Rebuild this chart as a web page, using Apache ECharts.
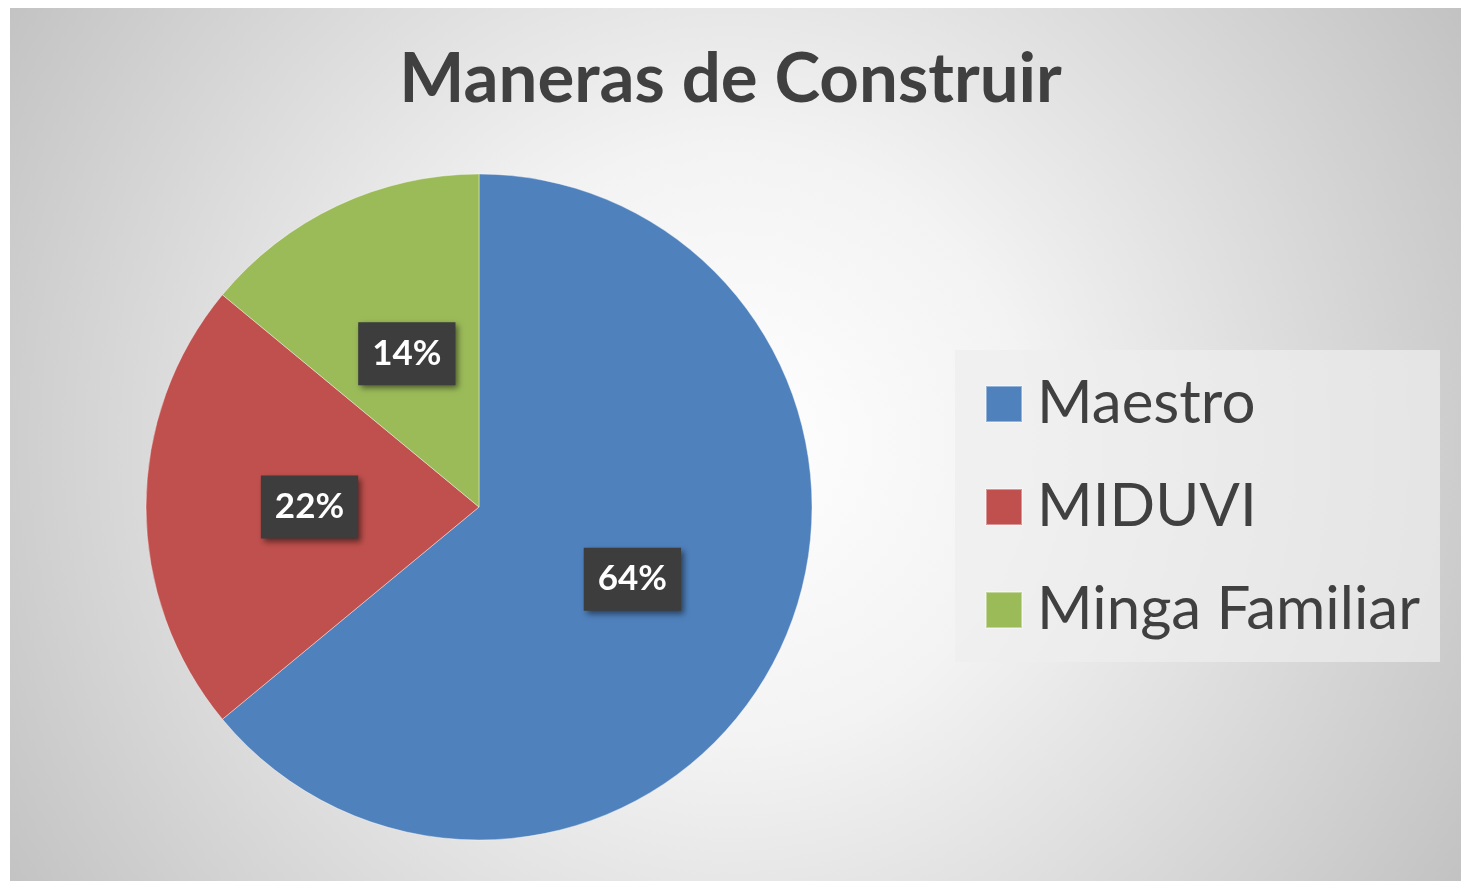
<!DOCTYPE html>
<html>
<head>
<meta charset="utf-8">
<script src="https://cdn.jsdelivr.net/npm/echarts@6/dist/echarts.min.js"></script>
<style>
  html, body { margin: 0; padding: 0; background: #fff; overflow: hidden; }
  #main { width: 1461px; height: 881px; }
</style>
</head>
<body>
<div id="main"></div>
<script>
var categories = ['Maestro', 'MIDUVI', 'Minga Familiar'];
var values = [64, 22, 14];
var colors = ['#4F81BD', '#C0504D', '#9BBB59'];

var myChart = echarts.init(document.getElementById('main'));

var pieData = [];
for (var i = 0; i < categories.length; i++) {
  pieData.push({ name: categories[i], value: values[i] });
}

var option = {
  backgroundColor: '#ffffff',
  color: colors,
  graphic: [{
    type: 'rect',
    z: -10,
    silent: true,
    shape: { x: 10, y: 8, width: 1470, height: 890 },
    style: {
      fill: new echarts.graphic.RadialGradient(0.49, 0.49, 0.96, [
        { offset: 0, color: '#ffffff' },
        { offset: 0.35, color: '#f3f3f3' },
        { offset: 1, color: '#c2c2c2' }
      ])
    }
  }],
  title: {
    text: 'Maneras de Construir',
    left: 'center',
    top: 40,
    textStyle: {
      fontFamily: 'Lato',
      fontWeight: 'bold',
      fontSize: 69,
      color: '#404040'
    }
  },
  legend: {
    orient: 'vertical',
    left: 955,
    top: 350,
    padding: [24, 20, 22, 30],
    backgroundColor: 'rgba(238,238,238,0.7)',
    icon: 'rect',
    itemWidth: 36,
    itemHeight: 36,
    itemGap: 43,
    data: categories,
    textStyle: {
      fontFamily: 'Lato',
      fontSize: 60,
      lineHeight: 60,
      color: '#404040',
      padding: [0, 0, 0, 10]
    }
  },
  series: [{
    name: 'Maneras de Construir',
    type: 'pie',
    center: [479, 507],
    radius: 333,
    startAngle: 90,
    clockwise: true,
    silent: true,
    itemStyle: {
      borderColor: 'rgba(255,255,255,0.4)',
      borderWidth: 1
    },
    label: {
      show: true,
      position: 'inside',
      formatter: '{c}%',
      fontFamily: 'Lato',
      fontWeight: 'bold',
      fontSize: 35,
      lineHeight: 35,
      color: '#ffffff',
      backgroundColor: '#3d3d3d',
      padding: [14, 14],
      shadowColor: 'rgba(0,0,0,0.5)',
      shadowBlur: 6,
      shadowOffsetX: 3,
      shadowOffsetY: 3
    },
    labelLine: { show: false },
    data: pieData
  }]
};

myChart.setOption(option);
</script>
</body>
</html>
